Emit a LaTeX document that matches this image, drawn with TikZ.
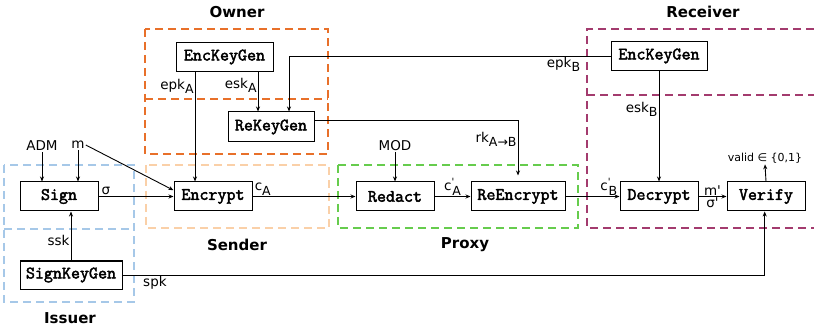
\documentclass[tikz,border=0pt]{standalone}
\usepackage{fontspec}
\setmainfont{DejaVu Sans}
\newfontfamily\boxfont{Latin Modern Mono}[FakeBold=2.5]
\usetikzlibrary{arrows.meta}

\definecolor{ownerc}{HTML}{E8702A}
\definecolor{senderc}{HTML}{FAD0A8}
\definecolor{issuerc}{HTML}{A6C8E8}
\definecolor{proxyc}{HTML}{66CC4D}
\definecolor{recvc}{HTML}{A33B6E}

% lowered index letters (A, B, A->B)
\newcommand{\lowtxt}[1]{\raisebox{-0.55ex}{\fontsize{12.5}{13}\selectfont #1}}
% straight prime mark
\newcommand{\pr}{\textquotesingle}
% primed variable with index: c' over A
\newcommand{\primed}[2]{#1\raisebox{0.75ex}{\fontsize{10}{10}\selectfont\pr}\kern-2pt\lowtxt{#2}}

\begin{document}
\begin{tikzpicture}[x=1pt,y=-1pt,
  algo/.style={draw, line width=1pt, fill=white, inner sep=0pt,
    font=\boxfont\bfseries\fontsize{17.5}{17.5}\selectfont,
    minimum height=29pt},
  group/.style={line width=1.8pt, dash pattern=on 8pt off 5pt},
  lbl/.style={font=\fontsize{13.5}{14}\selectfont, inner sep=1pt},
  grouptitle/.style={font=\bfseries\fontsize{15}{16}\selectfont},
  arr/.style={-{Stealth[length=5pt,width=4pt]}, line width=0.9pt}]
\useasboundingbox (0,0) rectangle (814,331);

% group frames
\draw[group, issuerc] (4,165) rectangle (134,302);
\draw[group, issuerc] (4,229) -- (134,229);
\draw[group, senderc] (146,165) rectangle (329,228);
\draw[group, ownerc] (145,29) rectangle (328,154);
\draw[group, ownerc] (145,99) -- (328,99);
\draw[group, proxyc] (338,165) rectangle (578,228);
\draw[group, recvc] (814,29) -- (587,29) -- (587,228) -- (814,228);
\draw[group, recvc] (587,95) -- (814,95);

% group titles
\node[grouptitle] (tOwner) at (237,12) {Owner};
\node[grouptitle] (tRecv) at (703,12) {Receiver};
\node[grouptitle] (tSender) at (237,245) {Sender};
\node[grouptitle] (tProxy) at (465,245) {Proxy};
\node[grouptitle] (tIssuer) at (70,318) {Issuer};

% algorithms
\node[algo, minimum width=78pt] (sign) at (59,196.5) {Sign};
\node[algo, minimum width=102pt, minimum height=28pt] (skg) at (71,275) {SignKeyGen};
\node[algo, minimum width=78pt] (enc) at (213,196.5) {Encrypt};
\node[algo, minimum width=78pt] (red) at (395,196.5) {Redact};
\node[algo, minimum width=94pt] (ree) at (518,196.5) {ReEncrypt};
\node[algo, minimum width=78pt] (dec) at (659,196.5) {Decrypt};
\node[algo, minimum width=78pt] (ver) at (766,196.5) {Verify};
\node[algo, minimum width=97pt] (ekgA) at (224.5,57) {EncKeyGen};
\node[algo, minimum width=96pt] (ekgB) at (659,56) {EncKeyGen};
\node[algo, minimum width=86pt, minimum height=30pt] (rkg) at (271,127) {ReKeyGen};

% inputs
\node[lbl] (adm) at (42,146) {ADM};
\node[lbl] (m) at (78,145) {m};
\node[lbl] (mod) at (395,146) {MOD};
\node[lbl, font=\fontsize{11}{12}\selectfont] (valid) at (765,158) {valid ∈ \{0,1\}};

% helper columns
\coordinate (xepk) at (195,0);
\coordinate (xesk) at (258,0);
\coordinate (xekb) at (289,0);

% connectors
\draw[arr] (adm.south) -- (adm.south |- sign.north);
\draw[arr] (m.south) -- (m.south |- sign.north);
\draw[arr] (m.east) -- (enc.171);
\draw[arr] (sign.east) -- node[lbl, above, pos=0.1] {σ} (enc.west);
\draw[arr] (skg.north) -- node[lbl, left, pos=0.4] {ssk} (skg.north |- sign.south);
\draw[arr] (ekgA.south -| xepk) -- node[lbl, left, pos=0.13] {epk\lowtxt{A}} (enc.north -| xepk);
\draw[arr] (ekgA.south -| xesk) -- node[lbl, left, pos=0.35] {esk\lowtxt{A}} (rkg.north -| xesk);
\draw[arr] (ekgB.west) -| node[lbl, below left, pos=0.045] {epk\lowtxt{B}} (xekb |- rkg.north);
\draw[arr, shorten >=6pt] (rkg.8) -| node[lbl, below left, pos=0.58] {rk\lowtxt{A→B}} (ree.north);
\draw[arr] (enc.east) -- node[lbl, above, pos=0.1] {c\lowtxt{A}} (red.west);
\draw[arr] (mod.south) -- (red.north);
\draw[arr] (red.east) -- node[lbl, above] {\primed{c}{A}} (ree.west);
\draw[arr] (ree.east) -- node[lbl, above, pos=0.8] {\primed{c}{B}} (dec.west);
\draw[arr] (ekgB.south) -- node[lbl, left, pos=0.35] {esk\lowtxt{B}} (dec.north);
\draw[arr] (dec.east) -- node[lbl, above] {m\pr} node[lbl, below] {σ\pr} (ver.west);
\draw[arr] (ver.north) -- (valid.south);
\draw[arr] (skg.east) -| node[lbl, below right, pos=0.015] {spk} (ver.265);

\end{tikzpicture}
\end{document}
